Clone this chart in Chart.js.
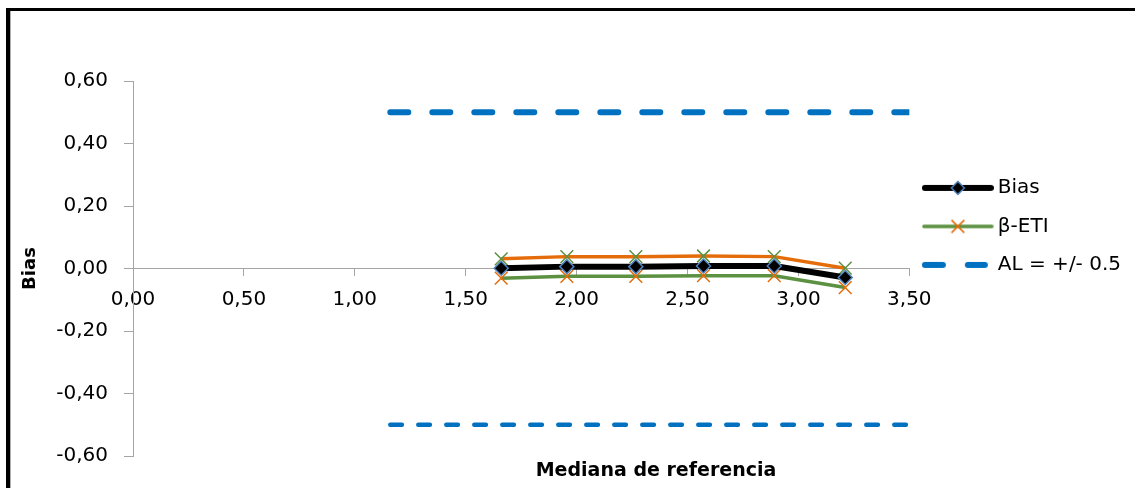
<!DOCTYPE html>
<html>
<head>
<meta charset="utf-8">
<script src="https://cdn.jsdelivr.net/npm/chart.js@4.4.1/dist/chart.umd.min.js"></script>
<style>
  html, body { margin: 0; padding: 0; background: #fff; overflow: hidden; }
  body { width: 1135px; height: 488px; position: relative; }
  #marco {
    position: absolute; left: 6px; top: 8px; width: 1300px; height: 700px;
    border-top: 3px solid #000; border-left: 4px solid #000;
    box-shadow: inset 1px 0 0 #b0b0b0;
  }
  #contenedor { position: absolute; left: 0; top: 0; width: 1135px; height: 488px; }
</style>
</head>
<body>
<div id="marco"></div>
<div id="contenedor"><canvas id="graficoBias"></canvas></div>
<script>
// datos
const medianas = [1.66, 1.956, 2.267, 2.572, 2.891, 3.211];
const bias = [0.001, 0.006, 0.006, 0.008, 0.008, -0.029];
const etiSuperior = [0.031, 0.038, 0.038, 0.040, 0.038, 0.001];
const etiInferior = [-0.031, -0.025, -0.025, -0.023, -0.023, -0.061];
const alX = [1.16, 3.5];
const alSuperior = [0.5, 0.5];
const alInferior = [-0.5, -0.5];
const etiquetasLeyenda = ["Bias", "β-ETI", "AL = +/- 0.5"];
const tituloX = "Mediana de referencia";
const tituloY = "Bias";

const NEGRO = "#000000";
const VERDE = "#5b9140";
const NARANJA = "#e46c0a";
const AZUL = "#0070c0";
const AZUL_BORDE = "#4f81bd";
const GRIS = "#a5a5a5";
const FUENTE = "DejaVu Sans";

function puntos(xs, ys) {
  return xs.map((x, i) => ({ x: x, y: ys[i] }));
}

function formato(valor) {
  const v = Math.abs(valor) < 1e-9 ? 0 : valor;
  return v.toFixed(2).replace(".", ",");
}

// iconos de la leyenda (linea + marcador)
function icono(tipo) {
  const c = document.createElement("canvas");
  c.width = 72;
  c.height = 22;
  const g = c.getContext("2d");
  g.lineCap = "round";
  if (tipo === "bias") {
    g.strokeStyle = NEGRO;
    g.lineWidth = 6;
    g.beginPath(); g.moveTo(3, 11); g.lineTo(69, 11); g.stroke();
    g.beginPath();
    g.moveTo(29.5, 11); g.lineTo(36, 4.5); g.lineTo(42.5, 11); g.lineTo(36, 17.5); g.closePath();
    g.fillStyle = NEGRO; g.fill();
    g.lineWidth = 1.5; g.strokeStyle = AZUL_BORDE; g.stroke();
  } else if (tipo === "eti") {
    g.strokeStyle = VERDE;
    g.lineWidth = 3.5;
    g.beginPath(); g.moveTo(2, 11); g.lineTo(70, 11); g.stroke();
    g.strokeStyle = NARANJA;
    g.lineWidth = 1.5;
    g.lineCap = "butt";
    g.beginPath();
    g.moveTo(29.6, 4.6); g.lineTo(42.4, 17.4);
    g.moveTo(42.4, 4.6); g.lineTo(29.6, 17.4);
    g.stroke();
  } else {
    g.strokeStyle = AZUL;
    g.lineWidth = 6;
    g.beginPath(); g.moveTo(3, 11); g.lineTo(21, 11); g.stroke();
    g.beginPath(); g.moveTo(46, 11); g.lineTo(63, 11); g.stroke();
  }
  return c;
}

const iconos = [icono("bias"), icono("eti"), icono("al")];

// titulo del eje X, fuera del centro del area (como en Excel)
const tituloEje = {
  id: "tituloEje",
  afterDraw(chart) {
    const c = chart.ctx;
    c.save();
    c.font = "bold 19px '" + FUENTE + "'";
    c.fillStyle = NEGRO;
    c.textAlign = "center";
    c.textBaseline = "middle";
    c.fillText(tituloX, 656, 471);
    c.restore();
  }
};

const ctx = document.getElementById("graficoBias").getContext("2d");
new Chart(ctx, {
  type: "line",
  data: {
    datasets: [
      {
        label: "Bias",
        data: puntos(medianas, bias),
        borderColor: NEGRO,
        borderWidth: 6,
        borderJoinStyle: "round",
        pointStyle: "rectRot",
        pointRadius: 7,
        pointBackgroundColor: NEGRO,
        pointBorderColor: AZUL_BORDE,
        pointBorderWidth: 1.5
      },
      {
        label: "β-ETI",
        data: puntos(medianas, etiInferior),
        borderColor: VERDE,
        borderWidth: 3.5,
        borderJoinStyle: "round",
        pointStyle: "crossRot",
        pointRadius: 9,
        pointBorderColor: NARANJA,
        pointBorderWidth: 1.5
      },
      {
        label: "β-ETI sup",
        data: puntos(medianas, etiSuperior),
        borderColor: NARANJA,
        borderWidth: 3.5,
        borderJoinStyle: "round",
        pointStyle: "crossRot",
        pointRadius: 9,
        pointBorderColor: VERDE,
        pointBorderWidth: 1.5
      },
      {
        label: "AL = +/- 0.5",
        data: puntos(alX, alSuperior),
        borderColor: AZUL,
        borderWidth: 6,
        borderDash: [18, 24],
        borderCapStyle: "round",
        pointRadius: 0
      },
      {
        label: "AL inf",
        data: puntos(alX, alInferior),
        borderColor: AZUL,
        borderWidth: 4.5,
        borderDash: [11.6, 16.4],
        borderCapStyle: "round",
        pointRadius: 0
      }
    ]
  },
  options: {
    responsive: true,
    maintainAspectRatio: false,
    animation: false,
    layout: { padding: { left: 12, top: 81, right: 4, bottom: 32 } },
    scales: {
      x: {
        type: "linear",
        position: { y: 0 },
        min: 0,
        max: 3.5,
        ticks: {
          stepSize: 0.5,
          callback: formato,
          color: NEGRO,
          padding: 12,
          font: { family: FUENTE, size: 20 }
        },
        grid: { drawOnChartArea: false, tickLength: 7, color: GRIS, lineWidth: 1 },
        border: { color: GRIS, width: 1 }
      },
      y: {
        type: "linear",
        min: -0.6,
        max: 0.6,
        afterFit: function (scale) {
          scale.width = 121;
        },
        ticks: {
          stepSize: 0.2,
          callback: formato,
          color: NEGRO,
          padding: 16,
          font: { family: FUENTE, size: 20 }
        },
        grid: { drawOnChartArea: false, tickLength: 9, color: GRIS, lineWidth: 1 },
        border: { color: GRIS, width: 1 },
        title: {
          display: true,
          text: tituloY,
          color: NEGRO,
          padding: { top: 8, bottom: 0 },
          font: { family: FUENTE, size: 18, weight: "bold" }
        }
      }
    },
    plugins: {
      tooltip: { enabled: false },
      legend: {
        position: "right",
        align: "start",
        maxWidth: 226,
        title: { display: true, text: " ", padding: { top: 0, bottom: 64 }, font: { size: 12 } },
        labels: {
          usePointStyle: true,
          pointStyleWidth: 60,
          boxHeight: 20,
          padding: 18.5,
          color: NEGRO,
          font: { family: FUENTE, size: 20 },
          generateLabels: function () {
            return etiquetasLeyenda.map((texto, i) => ({
              text: texto,
              pointStyle: iconos[i],
              fillStyle: "transparent",
              strokeStyle: "transparent",
              lineWidth: 0,
              hidden: false,
              datasetIndex: i,
              fontColor: NEGRO
            }));
          }
        }
      }
    }
  },
  plugins: [tituloEje]
});
</script>
</body>
</html>
